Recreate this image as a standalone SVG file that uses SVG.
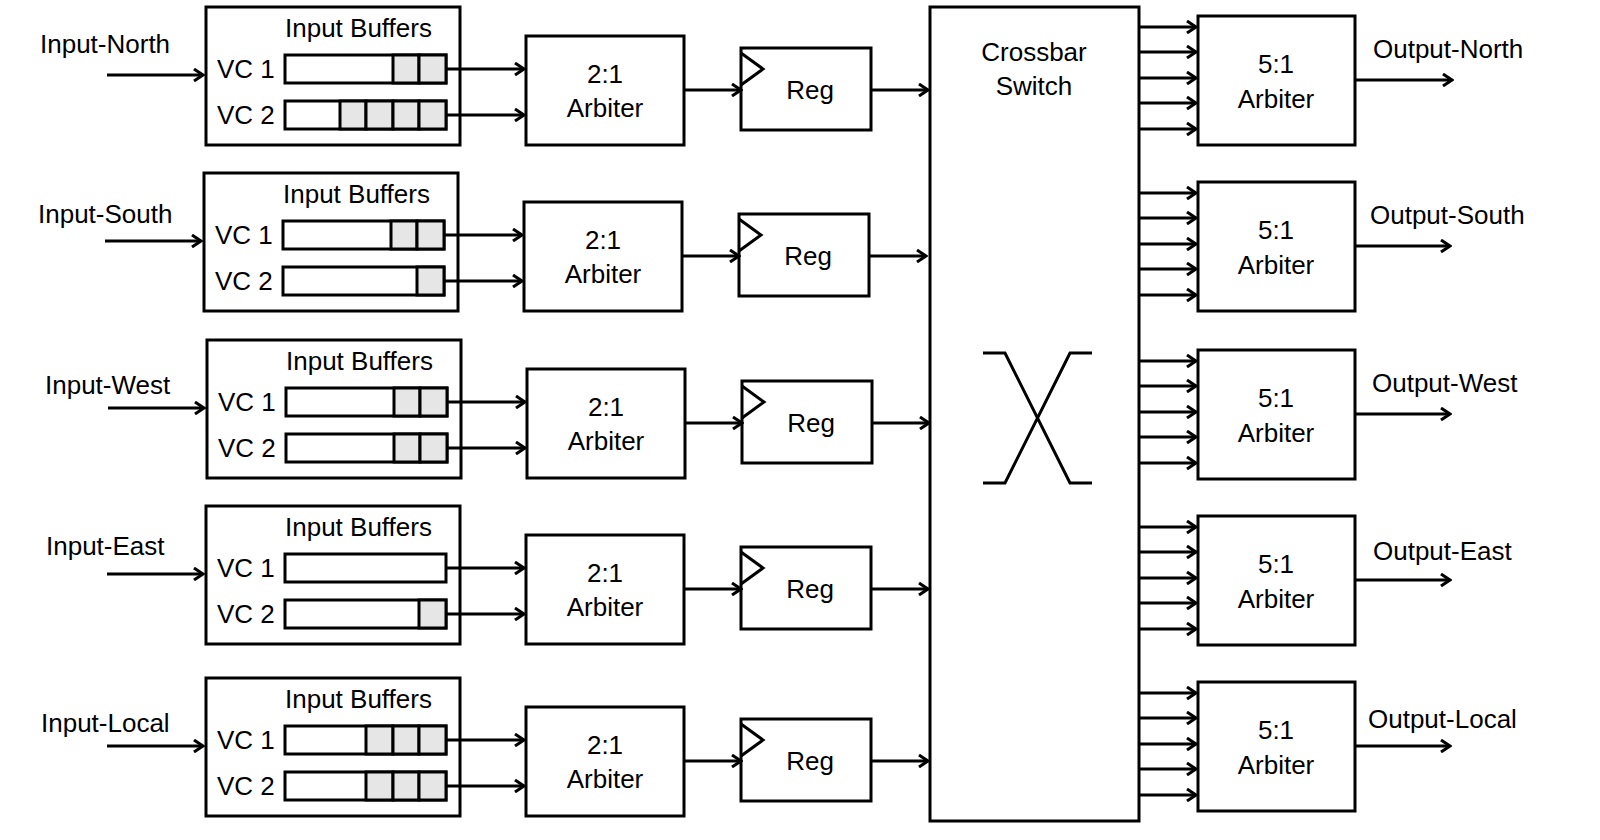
<svg xmlns="http://www.w3.org/2000/svg" width="1600" height="840" viewBox="0 0 1600 840">
<style>
.b{fill:#fff;stroke:#000;stroke-width:3}
.c{fill:#e6e6e6;stroke:#000;stroke-width:3}
.w{stroke:#000;stroke-width:3;fill:none}
#connectors path{stroke:#000;stroke-width:3;fill:none;marker-end:url(#a)}
text{font-family:"Liberation Sans",Arial,sans-serif;font-size:26px;fill:#000}
.m{text-anchor:middle}
</style>
<defs>
<marker id="a" markerWidth="14" markerHeight="14" refX="12" refY="7" orient="auto" markerUnits="userSpaceOnUse"><path d="M3,1 L12,7 L3,13" fill="none" stroke="#000" stroke-width="3"/></marker>
<g id="row">
<rect class="b" x="206" y="7" width="254" height="138"/>
<text x="285" y="37">Input Buffers</text>
<text x="217" y="78">VC 1</text>
<text x="217" y="124">VC 2</text>
<rect class="b" x="285" y="55" width="161" height="28"/>
<rect class="b" x="285" y="101" width="161" height="28"/>
<rect class="b" x="526" y="36" width="158" height="109"/>
<text class="m" x="605" y="83">2:1</text>
<text class="m" x="605" y="117">Arbiter</text>
<rect class="b" x="741" y="48" width="130" height="82"/>
<path class="w" d="M741,53 L763,69 L741,85"/>
<text class="m" x="810" y="99">Reg</text>
</g>
</defs>
<g id="crossbar">
<rect class="b" x="930" y="7" width="209" height="814"/>
<text class="m" x="1034" y="61">Crossbar</text>
<text class="m" x="1034" y="95">Switch</text>
<path class="w" d="M983,353 H1005 L1070,483 H1092 M983,483 H1005 L1070,353 H1092"/>
</g>
<g id="in-north"><use href="#row"/>
<rect class="c" x="393" y="55" width="26" height="28"/><rect class="c" x="419" y="55" width="27" height="28"/>
<rect class="c" x="340" y="101" width="26" height="28"/><rect class="c" x="366" y="101" width="27" height="28"/><rect class="c" x="393" y="101" width="26" height="28"/><rect class="c" x="419" y="101" width="27" height="28"/>
<text x="40" y="53">Input-North</text></g>
<g id="in-south" transform="translate(-2,166)"><use href="#row"/>
<rect class="c" x="393" y="55" width="26" height="28"/><rect class="c" x="419" y="55" width="27" height="28"/>
<rect class="c" x="419" y="101" width="27" height="28"/>
<text x="40" y="57">Input-South</text></g>
<g id="in-west" transform="translate(1,333)"><use href="#row"/>
<rect class="c" x="393" y="55" width="26" height="28"/><rect class="c" x="419" y="55" width="27" height="28"/>
<rect class="c" x="393" y="101" width="26" height="28"/><rect class="c" x="419" y="101" width="27" height="28"/>
<text x="44" y="61">Input-West</text></g>
<g id="in-east" transform="translate(0,499)"><use href="#row"/>
<rect class="c" x="419" y="101" width="27" height="28"/>
<text x="46" y="56">Input-East</text></g>
<g id="in-local" transform="translate(0,671)"><use href="#row"/>
<rect class="c" x="366" y="55" width="27" height="28"/><rect class="c" x="393" y="55" width="26" height="28"/><rect class="c" x="419" y="55" width="27" height="28"/>
<rect class="c" x="366" y="101" width="27" height="28"/><rect class="c" x="393" y="101" width="26" height="28"/><rect class="c" x="419" y="101" width="27" height="28"/>
<text x="41" y="61">Input-Local</text></g>
<g id="out-north"><rect class="b" x="1198" y="16" width="157" height="129"/><text class="m" x="1276" y="73">5:1</text><text class="m" x="1276" y="108">Arbiter</text><text x="1373" y="58">Output-North</text></g>
<g id="out-south"><rect class="b" x="1198" y="182" width="157" height="129"/><text class="m" x="1276" y="239">5:1</text><text class="m" x="1276" y="274">Arbiter</text><text x="1370" y="224">Output-South</text></g>
<g id="out-west"><rect class="b" x="1198" y="350" width="157" height="129"/><text class="m" x="1276" y="407">5:1</text><text class="m" x="1276" y="442">Arbiter</text><text x="1372" y="392">Output-West</text></g>
<g id="out-east"><rect class="b" x="1198" y="516" width="157" height="129"/><text class="m" x="1276" y="573">5:1</text><text class="m" x="1276" y="608">Arbiter</text><text x="1373" y="560">Output-East</text></g>
<g id="out-local"><rect class="b" x="1198" y="682" width="157" height="129"/><text class="m" x="1276" y="739">5:1</text><text class="m" x="1276" y="774">Arbiter</text><text x="1368" y="728">Output-Local</text></g>
<g id="connectors">
<path d="M107,75 H203"/><path d="M446,69 H524"/><path d="M446,115 H524"/><path d="M684,90 H741"/><path d="M871,90 H928"/>
<path d="M105,241 H201"/><path d="M444,235 H522"/><path d="M444,281 H522"/><path d="M682,256 H739"/><path d="M869,256 H926"/>
<path d="M108,408 H204"/><path d="M447,402 H525"/><path d="M447,448 H525"/><path d="M685,423 H742"/><path d="M872,423 H929"/>
<path d="M107,574 H203"/><path d="M446,568 H524"/><path d="M446,614 H524"/><path d="M684,589 H741"/><path d="M871,589 H928"/>
<path d="M107,746 H203"/><path d="M446,740 H524"/><path d="M446,786 H524"/><path d="M684,761 H741"/><path d="M871,761 H928"/>
<path d="M1139,27 H1196"/><path d="M1139,52 H1196"/><path d="M1139,78 H1196"/><path d="M1139,103 H1196"/><path d="M1139,129 H1196"/><path d="M1355,80 H1452"/>
<path d="M1139,193 H1196"/><path d="M1139,218 H1196"/><path d="M1139,244 H1196"/><path d="M1139,269 H1196"/><path d="M1139,295 H1196"/><path d="M1355,246 H1450"/>
<path d="M1139,361 H1196"/><path d="M1139,386 H1196"/><path d="M1139,412 H1196"/><path d="M1139,437 H1196"/><path d="M1139,463 H1196"/><path d="M1355,414 H1450"/>
<path d="M1139,527 H1196"/><path d="M1139,552 H1196"/><path d="M1139,578 H1196"/><path d="M1139,603 H1196"/><path d="M1139,629 H1196"/><path d="M1355,580 H1450"/>
<path d="M1139,693 H1196"/><path d="M1139,718 H1196"/><path d="M1139,744 H1196"/><path d="M1139,769 H1196"/><path d="M1139,795 H1196"/><path d="M1355,746 H1450"/>
</g>
</svg>
